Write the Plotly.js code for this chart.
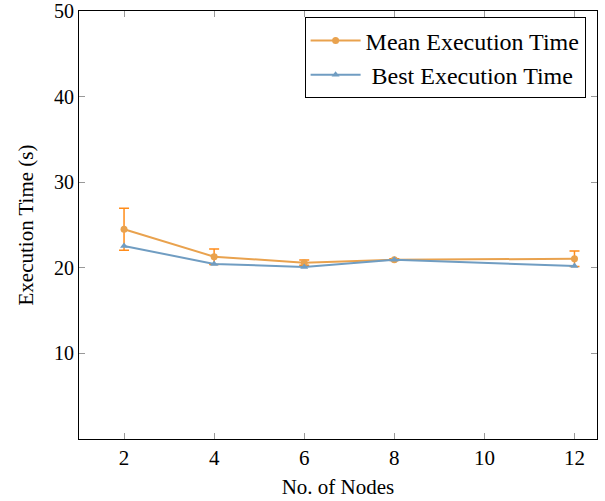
<!DOCTYPE html>
<html><head><meta charset="utf-8">
<script src="https://cdn.plot.ly/plotly-3.0.1.min.js"></script>
<style>html,body{margin:0;padding:0;background:#fff}#chart{width:605px;height:501px}</style>
</head><body><div id="chart"></div>
<script>
const nodes = [2, 4, 6, 8, 12];
const meanTime = [24.5, 21.3, 20.6, 20.95, 21.05];
const meanErr = [2.45, 0.9, 0.3, 0.1, 0.9];
const bestTime = [22.55, 20.45, 20.1, 20.95, 20.2];
const xTicks = [2, 4, 6, 8, 10, 12];
const yTicks = [10, 20, 30, 40, 50];
const seriesNames = ['Mean Execution Time', '\u00A0Best Execution Time'];

const font = '"Liberation Serif", "Times New Roman", serif';
const traces = [
  {x: nodes, y: meanTime, name: seriesNames[0], mode: 'lines+markers',
   line: {color: '#E9A24E', width: 2}, marker: {symbol: 'circle', size: 7, color: '#E9A24E'},
   error_y: {type: 'data', array: meanErr, visible: true, color: '#FF8C1A', thickness: 1.5, width: 5}},
  {x: nodes, y: bestTime, name: seriesNames[1], mode: 'lines+markers',
   line: {color: '#709DC2', width: 2}, marker: {symbol: 'triangle-up', size: 7, color: '#709DC2'}}
];
const layout = {
  width: 605, height: 501,
  margin: {l: 79, r: 8, t: 11, b: 62},
  paper_bgcolor: '#fff', plot_bgcolor: '#fff',
  font: {family: font, color: '#000', size: 21},
  showlegend: true,
  legend: {x: 0.978, y: 0.985, xanchor: 'right', yanchor: 'top', bordercolor: '#000', borderwidth: 1,
           bgcolor: '#fff', font: {family: font, size: 24}, tracegroupgap: 0, itemwidth: 50},
  xaxis: {range: [1, 12.5], tickvals: xTicks, ticks: 'inside', ticklen: 6, tickcolor: '#999',
          showline: true, linecolor: '#000', linewidth: 1, mirror: 'ticks', showgrid: false, zeroline: false,
          tickfont: {family: font, size: 21}, ticklabeloverflow: 'allow',
          title: {text: 'No. of Nodes', font: {family: font, size: 21}, standoff: 10}},
  yaxis: {range: [0, 50], tickvals: yTicks, ticks: 'inside', ticklen: 6, tickcolor: '#999',
          showline: true, linecolor: '#000', linewidth: 1, mirror: 'ticks', showgrid: false, zeroline: false,
          tickfont: {family: font, size: 20}, ticklabeloverflow: 'allow',
          title: {text: 'Execution Time (s)', font: {family: font, size: 21}, standoff: 14}}
};
Plotly.newPlot('chart', traces, layout, {displayModeBar: false});
</script></body></html>
